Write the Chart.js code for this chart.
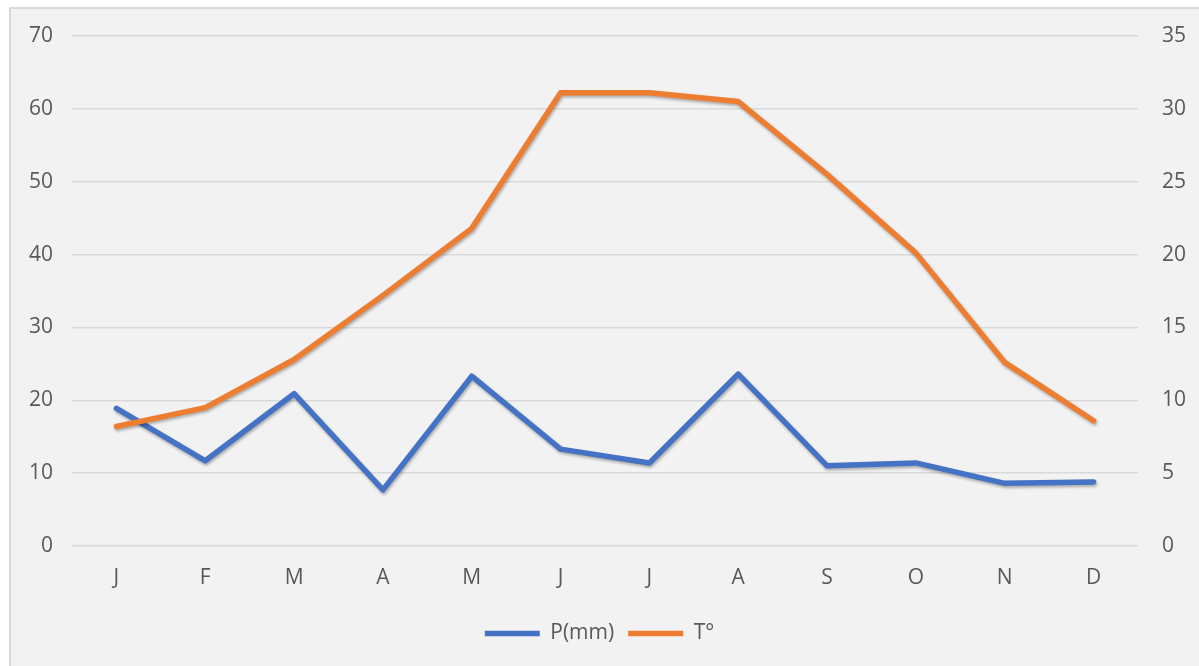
<!DOCTYPE html>
<html>
<head>
<meta charset="utf-8">
<script src="https://cdn.jsdelivr.net/npm/chart.js@4"></script>
<style>
  html, body { margin: 0; padding: 0; background: #ffffff; overflow: hidden; }
  #frame {
    position: absolute; left: 9px; top: 7px; width: 1200px; height: 670px;
    background: #f2f2f2; border: 2px solid #d9d9d9; box-sizing: border-box;
  }
  #wrap { position: absolute; left: 0; top: 0; width: 1199px; height: 666px; }
</style>
</head>
<body>
<div id="frame"></div>
<div id="wrap"><canvas id="climate-chart"></canvas></div>
<script>
// monthly climate data
const months = ['J', 'F', 'M', 'A', 'M', 'J', 'J', 'A', 'S', 'O', 'N', 'D']
const precipitation = [18.9, 11.7, 20.9, 7.7, 23.3, 13.3, 11.4, 23.6, 11.0, 11.4, 8.6, 8.8]
const temperature = [8.2, 9.5, 12.8, 17.2, 21.8, 31.1, 31.1, 30.5, 25.5, 20.1, 12.6, 8.6]

const textColor = '#595959'
const gridColor = '#d9d9d9'
const fontFamily = '"Open Sans", sans-serif'
const fontSize = 21

// soft drop shadow under each line
const lineShadow = {
    id: 'lineShadow',
    beforeDatasetDraw(chart) {
        const ctx = chart.ctx
        ctx.save()
        ctx.shadowColor = 'rgba(0, 0, 0, 0.3)'
        ctx.shadowBlur = 3
        ctx.shadowOffsetX = 1
        ctx.shadowOffsetY = 2
    },
    afterDatasetDraw(chart) {
        chart.ctx.restore()
    }
}

// fixed axis sizes so the plot area lands where we want it
function fixWidth(width) {
    return function (scale) {
        scale.width = width
        scale.paddingTop = 0
        scale.paddingBottom = 0
    }
}

const canvas = document.querySelector('#climate-chart')
new Chart(canvas.getContext('2d'), {
    type: 'line',
    data: {
        labels: months,
        datasets: [{
            label: 'P(mm)',
            data: precipitation,
            yAxisID: 'y',
            borderColor: '#4472c4',
            backgroundColor: '#4472c4',
            borderWidth: 5.5,
            borderCapStyle: 'round',
            borderJoinStyle: 'round',
            pointRadius: 0,
            order: 2
        }, {
            label: 'T°',
            data: temperature,
            yAxisID: 'y1',
            borderColor: '#ed7d31',
            backgroundColor: '#ed7d31',
            borderWidth: 5.5,
            borderCapStyle: 'round',
            borderJoinStyle: 'round',
            pointRadius: 0,
            order: 1
        }]
    },
    options: {
        responsive: true,
        maintainAspectRatio: false,
        animation: false,
        layout: { padding: { top: 36, bottom: 12, left: 0, right: 0 } },
        plugins: {
            tooltip: { enabled: false },
            legend: {
                position: 'bottom',
                labels: {
                    color: textColor,
                    font: { family: fontFamily, size: fontSize },
                    usePointStyle: true,
                    pointStyle: 'line',
                    pointStyleWidth: 55,
                    padding: 14,
                    sort: (a, b) => a.datasetIndex - b.datasetIndex
                }
            }
        },
        scales: {
            x: {
                offset: true,
                grid: { display: false, drawTicks: false },
                border: { display: false },
                ticks: { color: textColor, font: { family: fontFamily, size: fontSize }, padding: 19, maxRotation: 0 },
                afterFit(scale) { scale.height = 63 }
            },
            y: {
                position: 'left',
                min: 0,
                max: 70,
                grid: { color: gridColor, lineWidth: 1.5, drawTicks: false },
                border: { display: false },
                ticks: { stepSize: 10, color: textColor, font: { family: fontFamily, size: fontSize }, padding: 19 },
                afterFit: fixWidth(72)
            },
            y1: {
                position: 'right',
                min: 0,
                max: 35,
                grid: { display: false, drawTicks: false },
                border: { display: false },
                ticks: { stepSize: 5, color: textColor, font: { family: fontFamily, size: fontSize }, padding: 24, crossAlign: 'near' },
                afterFit: fixWidth(61)
            }
        }
    },
    plugins: [lineShadow]
})
</script>
</body>
</html>
